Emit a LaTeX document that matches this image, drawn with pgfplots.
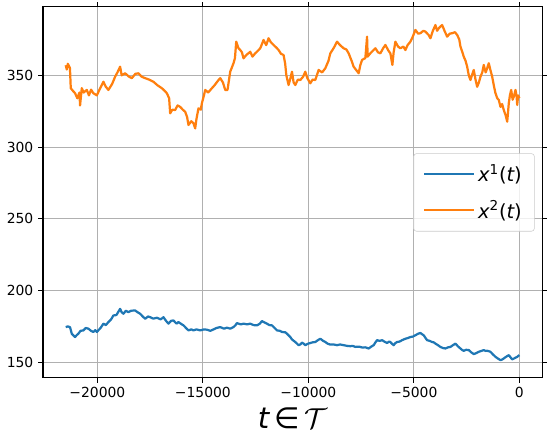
\documentclass[border=0pt]{standalone}
\usepackage{pgfplots}
\pgfplotsset{compat=1.18}
\usepackage{fontspec}
\setmainfont{DejaVu Sans}
\definecolor{mplblue}{HTML}{1F77B4}
\definecolor{mplorange}{HTML}{FF7F0E}
\definecolor{gridgray}{HTML}{B0B0B0}
\definecolor{leggray}{HTML}{CCCCCC}
\begin{document}
\begin{tikzpicture}
\useasboundingbox (-31pt,-41.8pt) rectangle (365pt,272.1pt);
\begin{axis}[
  name=ax, at={(0,0)}, anchor=south west,
  scale only axis, width=359.3pt, height=267.1pt,
  xmin=-22575, xmax=1075, ymin=139.2, ymax=397.6,
  scaled x ticks=false, scaled y ticks=false,
  xtick={-20000,-15000,-10000,-5000,0},
  xticklabels={−20000,−15000,−10000,−5000,0},
  ytick={150,200,250,300,350},
  yticklabels={150,200,250,300,350},
  tick label style={font=\fontsize{10}{12}\selectfont},
  tick align=outside, major tick length=3.5pt,
  tick style={black, line width=0.8pt},
  axis line style={black, line width=0.8pt},
  grid=major, major grid style={gridgray, line width=0.8pt},
  xlabel={\fontsize{21}{25}\selectfont\itshape t\,\upshape∈\,$\mathcal{T}$},
  xlabel style={yshift=0pt},
  legend style={at={(0.985,0.5)}, anchor=east, draw=leggray, rounded corners=2pt,
    fill=white, fill opacity=0.8, text opacity=1,
    font=\fontsize{14}{17}\selectfont, inner xsep=7pt, inner ysep=6pt,
    row sep=8pt, cells={anchor=west}},
  legend image code/.code={\draw[#1] (3pt,0pt) -- (24pt,0pt); \path (0pt,0pt) -- (36pt,0pt);},
  legend image post style={line width=1.4pt},
  every axis plot/.append style={line width=1.6pt, line join=round},
]
\addplot[mplblue] coordinates {
(-21500,174.6)(-21400,175.1)(-21295,174.5)(-21214,170)(-21058,167.7)(-20980,169)(-20901,170)
(-20800,172)(-20664,172.3)(-20550,174)(-20427,173.5)(-20300,172)(-20190,171.2)(-20100,172.5)(-20028,171.2)
(-19850,174)(-19715,177)(-19600,176)(-19478,178.1)(-19350,180)(-19241,182.7)(-19100,183)(-18923,187.3)
(-18850,185)(-18767,183.9)(-18650,186)(-18530,185)(-18400,186)(-18211,186.2)(-18100,185)(-17974,183.9)
(-17850,182)(-17737,180.4)(-17600,182)(-17500,181.5)(-17350,180.5)(-17182,181.1)(-17000,180)(-16869,181.5)
(-16750,179)(-16632,177)(-16500,179)(-16395,179.2)(-16250,177)(-16158,178.1)(-16050,177)(-15920,175.8)
(-15800,174)(-15683,172.3)(-15550,173)(-15446,172.3)(-15300,173)(-15128,172.3)(-14950,173)(-14810,172.8)
(-14650,172)(-14497,173)(-14350,174)(-14179,174.6)(-14000,173.5)(-13861,174.2)(-13700,173.5)(-13548,174.6)
(-13450,176)(-13387,177.4)(-13200,176.5)(-13074,177)(-12900,176.5)(-12756,177)(-12600,176)(-12438,175.8)
(-12300,177)(-12201,178.8)(-12100,178)(-11964,177)(-11850,176)(-11727,175.8)(-11600,174)(-11490,172.3)
(-11350,172)(-11252,171.2)(-11100,171)(-11015,170)(-10858,167.7)(-10778,166)(-10621,164.2)(-10541,163.1)
(-10465,162)(-10384,162.5)(-10304,163.8)(-10220,163)(-10147,162)(-10030,163)(-9910,163.5)(-9800,164)
(-9673,164.2)(-9550,165.5)(-9436,166.5)(-9300,165)(-9198,164.2)(-9080,163)(-8961,162.4)(-8800,162.5)
(-8643,162)(-8500,162.5)(-8330,162)(-8150,161.5)(-8012,161.3)(-7900,161.5)(-7775,160.8)(-7600,161)
(-7457,160.4)(-7300,160.5)(-7144,159.7)(-7020,161)(-6907,162)(-6820,164)(-6746,165.5)(-6620,165)
(-6508,165.5)(-6400,164.5)(-6271,163.5)(-6180,164.5)(-6115,164.2)(-6040,163)(-5958,162)(-5880,163.5)
(-5797,164.2)(-5680,164.5)(-5560,165.5)(-5480,166)(-5403,166.5)(-5280,167)(-5166,167.7)(-5050,168)
(-4929,168.9)(-4800,170)(-4692,170.5)(-4600,169.5)(-4535,168.9)(-4450,167)(-4374,165.5)(-4250,165)
(-4137,164.2)(-4060,164)(-3980,163.1)(-3860,162)(-3743,160.8)(-3620,160)(-3506,159.7)(-3380,160.5)
(-3269,160.8)(-3150,162)(-3031,163.1)(-2900,161)(-2794,159.7)(-2700,158.5)(-2638,158.1)(-2520,158.8)
(-2400,158.6)(-2280,157)(-2163,155.8)(-2040,156.5)(-1926,157.4)(-1800,158)(-1689,158.6)(-1600,158)
(-1527,158.1)(-1450,157.8)(-1371,157.4)(-1250,155.5)(-1134,153.9)(-1000,152.5)(-897,151.6)(-820,152)
(-740,152.8)(-620,154)(-503,155.1)(-420,153.5)(-342,152.1)(-220,153)(-104,153.9)(0,155.1)
};
\addlegendentry{\itshape x\upshape\textsuperscript{1}(\itshape t\upshape)}
\addplot[mplorange] coordinates {
(-21500,357)(-21450,354)(-21400,358)(-21300,355)(-21262,341)(-21150,339)(-21058,337.5)(-20950,334)
(-20850,338)(-20821,329)(-20740,341)(-20650,338)(-20503,339.8)(-20400,336)(-20300,340)(-20190,337.5)
(-20028,336)(-19900,340)(-19715,345.5)(-19600,342)(-19478,339.8)(-19300,344)(-19160,349)(-19050,352)
(-18923,356)(-18850,350)(-18686,351.4)(-18500,349)(-18368,348)(-18200,351)(-18055,351.4)(-17900,349)
(-17737,348)(-17550,347)(-17343,345.5)(-17150,343)(-16945,341)(-16800,339)(-16708,337.5)(-16600,334)
(-16551,323.5)(-16450,326)(-16314,325.8)(-16200,329)(-16077,328)(-15950,326)(-15840,324.6)(-15750,321)
(-15683,315.4)(-15550,318)(-15446,316.6)(-15366,313)(-15300,320)(-15209,327)(-15100,326)(-15048,330.5)
(-14950,336)(-14891,339.8)(-14750,338)(-14573,341)(-14450,343)(-14260,346.7)(-14179,348)(-14050,345)
(-13942,339.8)(-13833,339.8)(-13705,352.5)(-13548,358.4)(-13480,362)(-13420,373.4)(-13320,369)(-13231,367.6)
(-13150,366)(-13074,361.8)(-12950,364)(-12756,366.4)(-12650,363)(-12519,365.3)(-12400,367)(-12282,368.8)
(-12125,374.6)(-12000,371)(-11888,375.8)(-11780,373)(-11651,371.1)(-11500,369)(-11414,367.6)(-11300,365)
(-11176,364.1)(-11100,358)(-11048,350.2)(-10939,343.2)(-10850,348)(-10778,352.5)(-10700,345)(-10621,343.2)
(-10500,347)(-10384,346.7)(-10250,349)(-10147,352.5)(-10050,348)(-9910,344.4)(-9800,347)(-9673,346.7)
(-9516,353.7)(-9350,352)(-9198,354.9)(-9050,360)(-8961,365.3)(-8800,369)(-8643,373.4)(-8500,371)
(-8330,368.8)(-8200,368)(-8093,365.3)(-7950,360)(-7856,356)(-7700,353)(-7618,351.4)(-7540,357)
(-7457,360.7)(-7300,362)(-7220,376.9)(-7192,363)(-7064,365.3)(-6950,367)(-6826,368.8)(-6700,366)
(-6589,365.3)(-6450,369)(-6352,371.1)(-6200,367)(-6115,365.3)(-6020,357.2)(-5960,366)(-5878,373.4)
(-5750,370)(-5640,368.8)(-5500,370)(-5403,367.6)(-5300,371)(-5166,373.4)(-5050,377)(-4929,381.6)
(-4800,379)(-4692,379.3)(-4550,381)(-4454,380.4)(-4300,378)(-4217,375.8)(-4100,381)(-3980,385)
(-3900,381)(-3823,382.7)(-3740,384)(-3662,385)(-3550,381)(-3425,376.9)(-3300,379)(-3188,379.3)
(-3050,380)(-2951,378.1)(-2850,375)(-2794,370)(-2700,366)(-2638,363)(-2550,360)(-2476,356)
(-2400,350)(-2320,346.7)(-2250,350)(-2163,353.7)(-2080,347)(-2002,342)(-1920,345)(-1845,349)
(-1760,352)(-1689,357.2)(-1600,352)(-1527,354.9)(-1452,358.4)(-1380,354)(-1290,349)(-1200,342)
(-1134,337.5)(-1050,334)(-977,332.8)(-897,328)(-820,330)(-740,325.8)(-650,322)(-579,317.7)
(-540,324)(-503,330.5)(-450,336)(-389,339.8)(-320,333)(-266,335.1)(-185,339.8)(-130,335)
(-104,329.3)(-60,336)(0,334)
};
\addlegendentry{\itshape x\upshape\textsuperscript{2}(\itshape t\upshape)}
\end{axis}
\end{tikzpicture}
\end{document}
